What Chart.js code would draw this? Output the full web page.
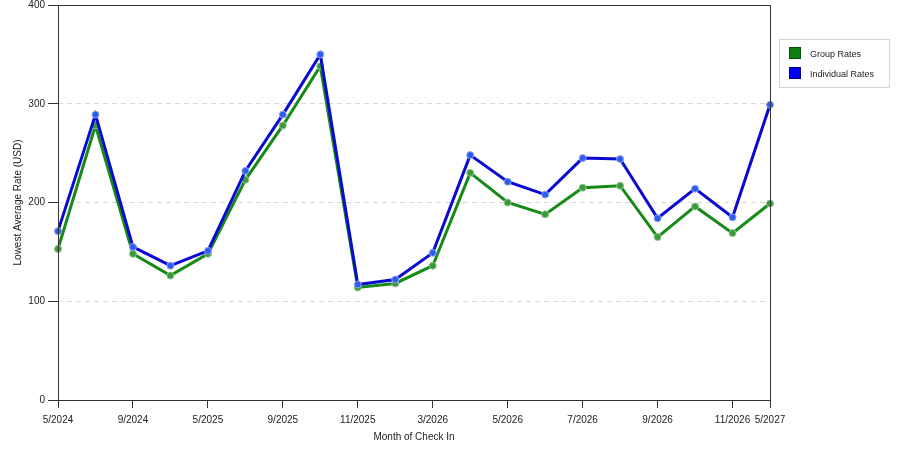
<!DOCTYPE html>
<html>
<head>
<meta charset="utf-8">
<title>Lowest Average Rate</title>
<script src="https://cdn.jsdelivr.net/npm/chart.js@4/dist/chart.umd.min.js"></script>
<style>
    html, body { margin: 0; padding: 0; background: #fff; }
    #wrap { width: 900px; height: 450px; }
</style>
</head>
<body>
<div id="wrap"><canvas id="rateChart" width="900" height="450"></canvas></div>
<script>
// months of check in (only every other one is labelled on the axis)
const months = ['5/2024', '', '9/2024', '', '5/2025', '', '9/2025', '', '11/2025', '',
    '3/2026', '', '5/2026', '', '7/2026', '', '9/2026', '', '11/2026', '5/2027'];
const groupRates = [153, 278, 148, 126, 148, 223, 278, 338, 114, 118,
    136, 230, 200, 188, 215, 217, 165, 196, 169, 199];
const individualRates = [171, 289, 155, 136, 151, 232, 289, 350, 117, 122,
    149, 248, 221, 208, 245, 244, 184, 214, 185, 299];
const yTicks = [0, 100, 200, 300, 400];

const FONT = 'Liberation Sans, Arial, sans-serif';

// frame round the plot area and the boxed legend on the right
const framePlugin = {
    id: 'frame',
    afterDraw(chart) {
        const ctx = chart.ctx;
        const a = chart.chartArea;
        ctx.save();
        ctx.strokeStyle = '#333';
        ctx.lineWidth = 1;
        ctx.strokeRect(Math.round(a.left) + 0.5, Math.round(a.top) + 0.5,
            Math.round(a.right - a.left), Math.round(a.bottom - a.top));

        // legend box
        const lx = a.right + 9, ly = 39;
        ctx.fillStyle = '#fff';
        ctx.fillRect(lx, ly, 110, 48);
        ctx.strokeStyle = '#d4d4d4';
        ctx.strokeRect(lx + 0.5, ly + 0.5, 110, 48);
        ctx.font = '9px ' + FONT;
        ctx.textBaseline = 'middle';
        chart.data.datasets.forEach((ds, i) => {
            const y = ly + 8 + i * 20;
            ctx.fillStyle = ds.legendColor;
            ctx.fillRect(lx + 10, y, 12, 12);
            ctx.strokeStyle = ds.legendEdge;
            ctx.strokeRect(lx + 10.5, y + 0.5, 11, 11);
            ctx.fillStyle = '#222';
            ctx.fillText(ds.label, lx + 31, y + 7.5);
        });
        ctx.restore();
    }
};

const ctx = document.getElementById('rateChart').getContext('2d');
const rateChart = new Chart(ctx, {
    type: 'line',
    data: {
        labels: months,
        datasets: [
            {
                label: 'Group Rates',
                data: groupRates,
                borderColor: '#168a16',
                borderWidth: 3,
                pointRadius: 3.5,
                pointBackgroundColor: '#3a9a3a',
                pointBorderColor: '#8fc48f',
                pointBorderWidth: 1,
                legendColor: '#0f7f0f',
                legendEdge: '#0a4f0a',
                tension: 0,
                clip: false,
                order: 1
            },
            {
                label: 'Individual Rates',
                data: individualRates,
                borderColor: '#0a0ad2',
                borderWidth: 3,
                pointRadius: 3.5,
                pointBackgroundColor: '#2f5cf0',
                pointBorderColor: '#8fa8f4',
                pointBorderWidth: 1,
                legendColor: '#0000ff',
                legendEdge: '#00007a',
                tension: 0,
                clip: false,
                order: 0
            }
        ]
    },
    options: {
        responsive: false,
        animation: false,
        devicePixelRatio: 1,
        layout: { padding: { left: 0, top: 5, right: 130, bottom: 0 } },
        plugins: {
            legend: { display: false },
            tooltip: { enabled: false }
        },
        scales: {
            x: {
                offset: false,
                grid: {
                    drawOnChartArea: false,
                    drawTicks: true,
                    tickLength: 8,
                    tickColor: (c) => months[c.index] ? '#333' : 'rgba(0,0,0,0)',
                    color: 'rgba(0,0,0,0)'
                },
                border: { display: false },
                ticks: {
                    autoSkip: false,
                    maxRotation: 0,
                    padding: 6,
                    color: '#222',
                    font: { family: FONT, size: 10 }
                },
                title: {
                    display: true,
                    text: 'Month of Check In',
                    color: '#222',
                    font: { family: FONT, size: 10 },
                    padding: { top: 0, bottom: 7 }
                },
                afterFit(scale) { scale.height = 50; }
            },
            y: {
                min: yTicks[0],
                max: yTicks[yTicks.length - 1],
                afterBuildTicks(scale) { scale.ticks = yTicks.map(v => ({ value: v })); },
                grid: {
                    drawTicks: true,
                    tickLength: 10,
                    tickColor: '#333',
                    tickBorderDash: [],
                    color: (c) => (c.tick && c.tick.value > 0 && c.tick.value < 400) ? '#d8d8d8' : 'rgba(0,0,0,0)'
                },
                border: { display: false, dash: [5, 4] },
                ticks: {
                    padding: 3,
                    color: '#222',
                    font: { family: FONT, size: 10 }
                },
                title: {
                    display: true,
                    text: 'Lowest Average Rate (USD)',
                    color: '#222',
                    font: { family: FONT, size: 10 },
                    padding: { top: 12, bottom: 0 }
                },
                afterFit(scale) {
                    scale.width = 58;
                    scale.paddingTop = 0;
                    scale.paddingBottom = 0;
                }
            }
        }
    },
    plugins: [framePlugin]
});
</script>
</body>
</html>
